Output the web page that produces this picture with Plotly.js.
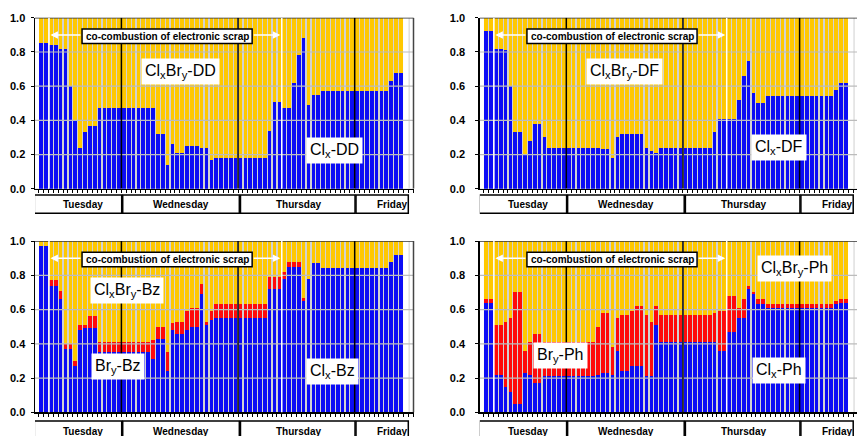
<!DOCTYPE html>
<html><head><meta charset="utf-8">
<script src="https://cdn.plot.ly/plotly-3.0.1.min.js"></script>
<style>html,body{margin:0;padding:0;background:#fff;}#chart{width:857px;height:436px;}</style>
</head><body><div id="chart"></div>
<script>
// ---- data (fractions per sampling interval, Tuesday .. Friday) ----
const days = ["Tuesday", "Wednesday", "Thursday", "Friday"];
const dayStart = [0, 17, 41, 65];          // first interval of each day
const cocombStart = 1.6, cocombEnd = 49.5; // co-combustion period (interval index)
const cocombLabel = "co-combustion of electronic scrap";
const yTicks = [0, 0.2, 0.4, 0.6, 0.8, 1.0];
const yTickText = ["0.0", "0.2", "0.4", "0.6", "0.8", "1.0"];

// Panel 1: DD
const clDD = [0.85,0.85,0.84,0.84,0.82,0.82,0.60,0.40,0.24,0.33,0.37,0.37,0.47,0.47,0.47,0.47,0.47,
  0.47,0.47,0.47,0.47,0.47,0.47,0.47,0.32,0.32,0.14,0.26,0.21,0.21,0.25,0.25,0.25,0.24,0.24,0.17,0.18,0.18,0.18,0.18,0.18,
  0.18,0.18,0.18,0.18,0.18,0.18,0.34,0.51,0.51,0.47,0.47,0.62,0.78,0.88,0.49,0.55,0.55,0.57,0.57,0.57,0.57,0.57,0.57,0.57,
  0.57,0.57,0.57,0.57,0.57,0.57,0.57,0.63,0.68,0.68];
// Panel 2: DF
const clDF = [0.92,0.92,0.82,0.82,0.81,0.60,0.33,0.33,0.20,0.28,0.38,0.38,0.30,0.24,0.24,0.24,0.24,
  0.24,0.24,0.24,0.24,0.24,0.24,0.24,0.23,0.23,0.18,0.30,0.32,0.32,0.32,0.32,0.32,0.24,0.22,0.21,0.24,0.24,0.24,0.24,0.24,
  0.24,0.24,0.24,0.24,0.24,0.24,0.33,0.41,0.41,0.41,0.41,0.52,0.66,0.75,0.56,0.50,0.50,0.54,0.54,0.54,0.54,0.54,0.54,0.54,
  0.54,0.54,0.54,0.54,0.54,0.54,0.54,0.58,0.62,0.62];
// Panel 3: Bz
const clBz = [0.97,0.97,0.74,0.74,0.66,0.37,0.37,0.27,0.48,0.49,0.49,0.49,0.35,0.35,0.35,0.35,0.35,
  0.35,0.35,0.35,0.35,0.35,0.35,0.31,0.43,0.43,0.24,0.48,0.46,0.46,0.48,0.50,0.50,0.69,0.51,0.54,0.55,0.55,0.55,0.55,0.55,
  0.55,0.55,0.55,0.55,0.55,0.55,0.72,0.72,0.72,0.78,0.85,0.85,0.85,0.65,0.78,0.87,0.87,0.84,0.84,0.84,0.84,0.84,0.84,0.84,
  0.84,0.84,0.84,0.84,0.84,0.84,0.84,0.88,0.92,0.92];
const brBz = [0,0,0.03,0.03,0.05,0.03,0.03,0.03,0.03,0.02,0.07,0.07,0.06,0.06,0.06,0.06,0.06,
  0.06,0.06,0.06,0.06,0.06,0.06,0.11,0.07,0.07,0.11,0.04,0.07,0.07,0.11,0.11,0.11,0.06,0.02,0.05,0.08,0.08,0.08,0.08,0.08,
  0.08,0.08,0.08,0.08,0.08,0.08,0.07,0.07,0.07,0.04,0.03,0.03,0.03,0.02,0,0,0,0,0,0,0,0,0,0,
  0,0,0,0,0,0,0,0,0,0];
// Panel 4: Ph
const clPh = [0.64,0.64,0.22,0.22,0.15,0.12,0.05,0.05,0.23,0.22,0.17,0.17,0.21,0.21,0.21,0.21,0.21,
  0.21,0.21,0.21,0.21,0.21,0.21,0.22,0.23,0.23,0.22,0.36,0.24,0.24,0.27,0.27,0.27,0.21,0.21,0.51,0.41,0.41,0.41,0.41,0.41,
  0.41,0.41,0.41,0.41,0.41,0.41,0.41,0.36,0.36,0.47,0.47,0.55,0.55,0.72,0.69,0.63,0.63,0.61,0.61,0.61,0.61,0.61,0.61,0.61,
  0.61,0.61,0.61,0.61,0.61,0.61,0.61,0.63,0.64,0.64];
const brPh = [0.02,0.02,0.29,0.29,0.38,0.43,0.65,0.65,0.13,0.19,0.29,0.29,0.20,0.20,0.20,0.20,0.20,
  0.20,0.20,0.20,0.20,0.20,0.20,0.28,0.35,0.35,0.16,0.19,0.33,0.33,0.32,0.35,0.35,0.36,0.32,0.11,0.16,0.16,0.16,0.16,0.16,
  0.16,0.16,0.16,0.16,0.16,0.16,0.17,0.23,0.23,0.21,0.21,0.06,0.11,0.02,0.01,0.03,0.03,0.02,0.02,0.02,0.02,0.02,0.02,0.02,
  0.02,0.02,0.02,0.02,0.02,0.02,0.02,0.02,0.02,0.02];

// ---- styling ----
const FONT = "Liberation Sans, Arial, Helvetica, sans-serif";
const BLUE = "#0c0cf5", RED = "#ff0a0a", YEL = "#ffc800";
const W = 857, H = 436;

const idx = clDD.map((_, i) => i);
const dayEdges = dayStart.slice(1).map(s => s - 0.5);

const panels = [
  {cl: clDD, br: null, left: true, xd: [35/W, 413.5/W], xr: [-1.28, 76.6], yd: [0.5670, 0.9592], boxY: [0.5108, 0.5528], txtY: 0.5321, stand: 3,
   labels: [{t: "Cl<sub>x</sub>Br<sub>y</sub>-DD", x: 28.6, y: 0.686}, {t: "Cl<sub>x</sub>-DD", x: 60.4, y: 0.224}]},
  {cl: clDF, br: null, left: false, xd: [479.8/W, 1], xr: [-1.3, 76.31], yd: [0.5670, 0.9592], boxY: [0.5108, 0.5528], txtY: 0.5321, stand: 8,
   labels: [{t: "Cl<sub>x</sub>Br<sub>y</sub>-DF", x: 28.4, y: 0.686}, {t: "Cl<sub>x</sub>-DF", x: 60.3, y: 0.24}]},
  {cl: clBz, br: brBz, left: true, xd: [35/W, 413.5/W], xr: [-1.28, 76.6], yd: [0.0539, 0.4472], boxY: [-0.03, 0.0344], txtY: 0.0100, stand: 3,
   labels: [{t: "Cl<sub>x</sub>Br<sub>y</sub>-Bz", x: 17.7, y: 0.71}, {t: "Br<sub>y</sub>-Bz", x: 15.8, y: 0.27}, {t: "Cl<sub>x</sub>-Bz", x: 60.0, y: 0.24}]},
  {cl: clPh, br: brPh, left: false, xd: [479.8/W, 1], xr: [-1.3, 76.31], yd: [0.0539, 0.4472], boxY: [-0.03, 0.0344], txtY: 0.0100, stand: 8,
   labels: [{t: "Cl<sub>x</sub>Br<sub>y</sub>-Ph", x: 63.4, y: 0.84}, {t: "Br<sub>y</sub>-Ph", x: 15.4, y: 0.33}, {t: "Cl<sub>x</sub>-Ph", x: 60.3, y: 0.245}]}
];

const dayBoxes = [[-1.42, 16.56], [16.77, 40.76], [41.0, 64.57], [64.77, 75.53]];
const dayTextX = [8.6, 28.8, 53, 72.2];

const traces = [], shapes = [], annotations = [];
const layout = {
  width: W, height: H, margin: {l: 0, r: 0, t: 0, b: 0},
  paper_bgcolor: "#ffffff", plot_bgcolor: "#d2d2d2",
  barmode: "stack", bargap: 0.25, showlegend: false,
  font: {family: FONT, color: "#000"},
  shapes: shapes, annotations: annotations
};

panels.forEach((p, n) => {
  const s = n === 0 ? "" : String(n + 1);
  const xa = "x" + s, ya = "y" + s;
  const rest = p.cl.map((v, i) => 1 - v - (p.br ? p.br[i] : 0));
  traces.push({type: "bar", x: idx, y: p.cl, xaxis: xa, yaxis: ya, marker: {color: BLUE, line: {width: 0}}, hoverinfo: "skip"});
  if (p.br) traces.push({type: "bar", x: idx, y: p.br, xaxis: xa, yaxis: ya, marker: {color: RED, line: {width: 0}}, hoverinfo: "skip"});
  traces.push({type: "bar", x: idx, y: rest, xaxis: xa, yaxis: ya, marker: {color: YEL, line: {width: 0}}, hoverinfo: "skip"});

  layout["xaxis" + s] = {domain: p.xd, range: p.xr, anchor: ya, showgrid: false, zeroline: false,
    showline: true, linecolor: "#000", linewidth: 1.5, ticks: "outside", ticklen: 3, tickwidth: 1, tickcolor: "#000",
    tick0: -0.5, dtick: 1, showticklabels: false, fixedrange: true};
  layout["yaxis" + s] = {domain: p.yd, range: [0, 1], anchor: xa, showgrid: false, zeroline: false,
    showline: true, linecolor: "#000", linewidth: 1.5, ticks: "outside", ticklen: 3, tickwidth: 1, tickcolor: "#000",
    tickvals: yTicks, ticktext: yTickText, ticklabelstandoff: p.stand,
    tickfont: {family: FONT, size: 11, weight: "bold", color: "#000"}, fixedrange: true};

  // white empty areas at both ends of the bar range
  shapes.push({type: "rect", xref: xa, yref: ya, x0: p.xr[0], x1: -0.45, y0: 0, y1: 1, fillcolor: "#fff", line: {width: 0}, layer: "below"});
  shapes.push({type: "rect", xref: xa, yref: ya, x0: 74.45, x1: p.xr[1], y0: 0, y1: 1, fillcolor: "#fff", line: {width: 0}, layer: "below"});
  shapes.push({type: "line", xref: xa, yref: ya, x0: 75.7, x1: 75.7, y0: 0, y1: 1, line: {color: "#cfcfcf", width: 1}, layer: "below"});
  // horizontal grid drawn over the bars
  [0.2, 0.4, 0.6, 0.8].forEach(v => shapes.push({type: "line", xref: xa + " domain", yref: ya, x0: 0, x1: 1, y0: v, y1: v,
    line: {color: "#bcbcbc", width: 1.2}}));
  shapes.push({type: "line", xref: xa + " domain", yref: ya, x0: 0, x1: 1, y0: 1, y1: 1, line: {color: "#333", width: 1.5}});
  if (p.left) shapes.push({type: "line", xref: xa + " domain", yref: ya, x0: 1, x1: 1, y0: 0, y1: 1, line: {color: "#444", width: 1.5}});
  // day separators
  dayEdges.forEach(e => shapes.push({type: "line", xref: xa, yref: ya, x0: e, x1: e, y0: 0, y1: 1, line: {color: "#000", width: 1.5}}));
  // co-combustion markers
  [cocombStart, cocombEnd].forEach(e => shapes.push({type: "line", xref: xa, yref: ya, x0: e, x1: e, y0: 0, y1: 1, line: {color: "#fff", width: 1.5}}));
  shapes.push({type: "rect", xref: xa, yref: ya, x0: 8.4, x1: 43.4, y0: 0.85, y1: 0.935, fillcolor: "#fff", line: {color: "#000", width: 1.5}});
  annotations.push({xref: xa, yref: ya, x: 25.9, y: 0.892, yanchor: "middle", xanchor: "center", text: cocombLabel, showarrow: false,
    font: {family: FONT, size: 10, weight: "bold", color: "#000"}});
  annotations.push({xref: xa, yref: ya, axref: xa, ayref: ya, x: cocombStart + 0.3, y: 0.9, ax: 8.4, ay: 0.9, text: "",
    showarrow: true, arrowhead: 2, arrowsize: 1, arrowwidth: 1.5, arrowcolor: "#fff", standoff: 0, startstandoff: 0});
  annotations.push({xref: xa, yref: ya, axref: xa, ayref: ya, x: cocombEnd - 0.3, y: 0.9, ax: 43.4, ay: 0.9, text: "",
    showarrow: true, arrowhead: 2, arrowsize: 1, arrowwidth: 1.5, arrowcolor: "#fff", standoff: 0, startstandoff: 0});
  // series labels
  p.labels.forEach(l => annotations.push({xref: xa, yref: ya, x: l.x, y: l.y, yanchor: "middle", xanchor: "center", text: l.t, showarrow: false,
    bgcolor: "#fff", borderpad: 3, font: {family: FONT, size: 16, color: "#000"}}));
  // day boxes below axis
  dayBoxes.forEach((b, i) => {
    shapes.push({type: "rect", xref: xa, yref: "paper", x0: b[0], x1: b[1], y0: p.boxY[0], y1: p.boxY[1],
      fillcolor: "#fff", line: {color: "#000", width: 1.5}});
    annotations.push({xref: xa, yref: "paper", x: dayTextX[i], y: p.txtY, yanchor: "middle", xanchor: "center", text: days[i], showarrow: false,
      font: {family: FONT, size: 10, weight: "bold", color: "#000"}});
  });
});

Plotly.newPlot("chart", traces, layout, {staticPlot: true, displayModeBar: false});
</script>
</body></html>
